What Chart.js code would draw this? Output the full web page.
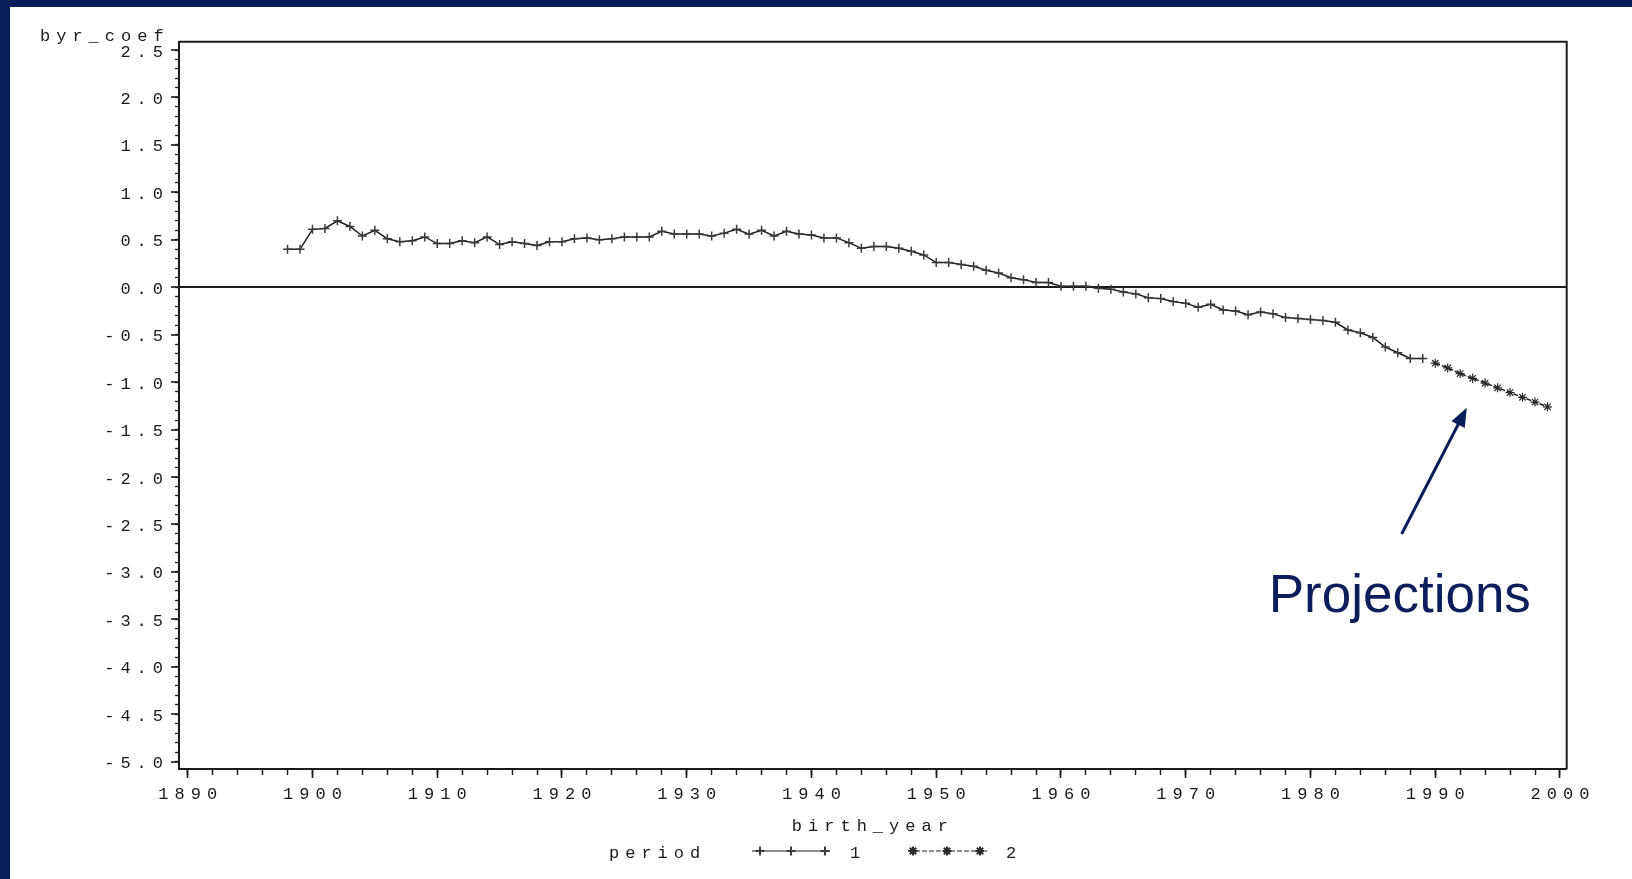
<!DOCTYPE html>
<html>
<head>
<meta charset="utf-8">
<script src="https://cdn.jsdelivr.net/npm/chart.js@4.4.1/dist/chart.umd.min.js"></script>
<style>
  html, body { margin: 0; padding: 0; width: 1632px; height: 879px; overflow: hidden; background: #0b1e5b; }
  #panel { position: absolute; left: 10px; top: 7px; right: 0; bottom: 0; background: #ffffff; }
  #c { position: absolute; left: 0; top: 0; }
</style>
</head>
<body>
<div id="panel"></div>
<canvas id="c" width="1632" height="879"></canvas>
<script>
// ---------------- data ----------------
const period1Years = [1898,1899,1900,1901,1902,1903,1904,1905,1906,1907,1908,1909,
  1910,1911,1912,1913,1914,1915,1916,1917,1918,1919,1920,1921,1922,1923,1924,1925,
  1926,1927,1928,1929,1930,1931,1932,1933,1934,1935,1936,1937,1938,1939,1940,1941,
  1942,1943,1944,1945,1946,1947,1948,1949,1950,1951,1952,1953,1954,1955,1956,1957,
  1958,1959,1960,1961,1962,1963,1964,1965,1966,1967,1968,1969,1970,1971,1972,1973,
  1974,1975,1976,1977,1978,1979,1980,1981,1982,1983,1984,1985,1986,1987,1988,1989];
const period1Coef = [0.40,0.40,0.61,0.62,0.70,0.64,0.54,0.60,0.51,0.48,0.49,0.53,
  0.46,0.46,0.49,0.47,0.53,0.45,0.48,0.46,0.44,0.48,0.48,0.51,0.52,0.50,0.51,0.53,
  0.53,0.53,0.59,0.56,0.56,0.56,0.54,0.57,0.61,0.56,0.60,0.54,0.59,0.56,0.55,0.52,
  0.52,0.47,0.41,0.43,0.43,0.41,0.38,0.34,0.26,0.26,0.24,0.22,0.18,0.15,0.10,0.08,
  0.05,0.05,0.01,0.01,0.01,-0.01,-0.02,-0.05,-0.07,-0.11,-0.12,-0.15,-0.17,-0.21,-0.18,-0.24,
  -0.25,-0.29,-0.26,-0.28,-0.32,-0.33,-0.34,-0.35,-0.37,-0.45,-0.48,-0.53,-0.63,-0.69,-0.75,-0.75];
const period2Years = [1990,1991,1992,1993,1994,1995,1996,1997,1998,1999];
const period2Coef = [-0.80,-0.85,-0.91,-0.96,-1.01,-1.06,-1.11,-1.16,-1.21,-1.26];

const xTickValues = [1890,1900,1910,1920,1930,1940,1950,1960,1970,1980,1990,2000];
const xTickLabels = ['1890','1900','1910','1920','1930','1940','1950','1960','1970','1980','1990','2000'];
const yTickValues = [-5.0,-4.5,-4.0,-3.5,-3.0,-2.5,-2.0,-1.5,-1.0,-0.5,0.0,0.5,1.0,1.5,2.0,2.5];
const yTickLabels = ['-5.0','-4.5','-4.0','-3.5','-3.0','-2.5','-2.0','-1.5','-1.0','-0.5','0.0','0.5','1.0','1.5','2.0','2.5'];
const seriesNames = ['1', '2'];
const legendTitle = 'period';
const xTitle = 'birth_year';
const yTitle = 'byr_coef';
const noteText = 'Projections';

// ---------------- styling ----------------
const X_MIN = 1889.30, X_MAX = 2000.54;
const Y_MIN = -5.077, Y_MAX = 2.5875;
const INK = '#1a1a1a';
const NAVY = '#0b1e5b';
const MONO = '"Liberation Mono", "Courier New", monospace';
const SPACING = '6px';

function zeroPad(s) { s.paddingLeft = 0; s.paddingRight = 0; s.paddingTop = 0; s.paddingBottom = 0; }

const minorX = [];
for (let v = 1890; v <= 2000; v += 2) minorX.push(v);
const minorY = [];
for (let k = -50; k <= 25; k++) minorY.push(k / 10);

const sasLetterSpacing = {
  id: 'sasLetterSpacing',
  beforeDraw(chart) { chart.ctx.letterSpacing = SPACING; }
};

const decorations = {
  id: 'decorations',
  afterDraw(chart) {
    const ctx = chart.ctx;
    const a = chart.chartArea;
    const xs = chart.scales.x, ys = chart.scales.y;
    ctx.save();
    // frame
    ctx.strokeStyle = INK;
    ctx.lineWidth = 2;
    ctx.beginPath();
    ctx.moveTo(a.left, a.top);
    ctx.lineTo(a.right, a.top);
    ctx.lineTo(a.right, a.bottom);
    ctx.stroke();

    // y title
    ctx.letterSpacing = SPACING;
    ctx.font = '17px ' + MONO;
    ctx.fillStyle = INK;
    ctx.textAlign = 'left';
    ctx.textBaseline = 'alphabetic';
    ctx.fillText(yTitle, 40, 41);

    // legend
    const ly = 851;
    ctx.fillText(legendTitle, 609, 857.5);
    const ds = chart.data.datasets;
    const items = [
      {x0: 752, x1: 830, marks: [760, 791, 825], lx: 850, d: ds[0]},
      {x0: 908, x1: 987, marks: [913, 947, 980], lx: 1006, d: ds[1]}
    ];
    items.forEach((it, i) => {
      ctx.save();
      ctx.strokeStyle = it.d.borderColor;
      ctx.lineWidth = 1.2;
      ctx.setLineDash(it.d.borderDash || []);
      ctx.beginPath();
      ctx.moveTo(it.x0, ly); ctx.lineTo(it.x1, ly); ctx.stroke();
      ctx.restore();
      ctx.strokeStyle = it.d.pointBorderColor;
      it.marks.forEach(mx => {
        Chart.helpers.drawPoint(ctx, {
          pointStyle: it.d.pointStyle, radius: it.d.pointRadius, borderWidth: 1.3, rotation: 0
        }, mx, ly);
      });
      ctx.fillStyle = INK;
      ctx.fillText(seriesNames[i], it.lx, 857.5);
    });

    // annotation arrow + text (anchored in data units)
    const tx = xs.getPixelForValue(1987.31), ty = ys.getPixelForValue(-2.60);
    const hx = xs.getPixelForValue(1992.53), hy = ys.getPixelForValue(-1.27);
    const ang = Math.atan2(hy - ty, hx - tx);
    const head = 19, half = 7.5;
    ctx.strokeStyle = NAVY;
    ctx.fillStyle = NAVY;
    ctx.lineWidth = 3;
    ctx.beginPath();
    ctx.moveTo(tx, ty);
    ctx.lineTo(hx - Math.cos(ang) * head * 0.8, hy - Math.sin(ang) * head * 0.8);
    ctx.stroke();
    ctx.beginPath();
    ctx.moveTo(hx, hy);
    ctx.lineTo(hx - Math.cos(ang) * head + Math.sin(ang) * half, hy - Math.sin(ang) * head - Math.cos(ang) * half);
    ctx.lineTo(hx - Math.cos(ang) * head - Math.sin(ang) * half, hy - Math.sin(ang) * head + Math.cos(ang) * half);
    ctx.closePath();
    ctx.fill();

    ctx.letterSpacing = '0px';
    ctx.font = '53px "Liberation Sans", Arial, sans-serif';
    ctx.textAlign = 'left';
    ctx.textBaseline = 'alphabetic';
    ctx.fillText(noteText, xs.getPixelForValue(1976.65), ys.getPixelForValue(-3.42));
    ctx.restore();
  }
};

const ctx = document.getElementById('c').getContext('2d');
new Chart(ctx, {
  type: 'line',
  data: {
    datasets: [
      {
        label: seriesNames[0],
        data: period1Years.map((yr, i) => ({x: yr, y: period1Coef[i]})),
        borderColor: '#1e1e1e',
        borderWidth: 1.5,
        pointStyle: 'cross',
        pointRadius: 4.5,
        pointBorderWidth: 1.5,
        pointBorderColor: '#3a3a3a',
        pointBackgroundColor: '#3a3a3a',
        tension: 0,
        fill: false
      },
      {
        label: seriesNames[1],
        data: period2Years.map((yr, i) => ({x: yr, y: period2Coef[i]})),
        borderColor: '#1e1e1e',
        borderWidth: 1.5,
        borderDash: [5, 2],
        pointStyle: 'star',
        pointRadius: 4.5,
        pointBorderWidth: 1.2,
        pointBorderColor: '#2a2a2a',
        pointBackgroundColor: '#2a2a2a',
        tension: 0,
        fill: false
      }
    ]
  },
  options: {
    responsive: false,
    animation: false,
    devicePixelRatio: 1,
    layout: { padding: { left: 0, top: 41.7, right: 65.3, bottom: 0 } },
    plugins: { legend: { display: false }, tooltip: { enabled: false } },
    scales: {
      x: {
        type: 'linear', position: 'bottom', weight: 1,
        min: X_MIN, max: X_MAX,
        afterBuildTicks: s => { s.ticks = xTickValues.map(v => ({value: v})); },
        afterFit: s => { s.height = 110; zeroPad(s); },
        ticks: {
          autoSkip: false, maxRotation: 0, padding: 6, labelOffset: 3,
          color: INK, font: { family: MONO, size: 17 },
          callback: v => xTickLabels[xTickValues.indexOf(v)]
        },
        grid: { drawOnChartArea: false, tickLength: 9, tickColor: INK, tickWidth: 1.6 },
        border: { display: true, color: INK, width: 2 },
        title: {
          display: true, text: xTitle, color: INK,
          font: { family: MONO, size: 17 }, padding: { top: 0, bottom: 42 }
        }
      },
      xMinor: {
        type: 'linear', position: 'bottom', weight: 0,
        min: X_MIN, max: X_MAX,
        afterBuildTicks: s => { s.ticks = minorX.map(v => ({value: v})); },
        afterFit: s => { s.height = 0; zeroPad(s); },
        ticks: { display: false, autoSkip: false },
        grid: { drawOnChartArea: false, tickLength: 6, tickColor: INK, tickWidth: 1.5 },
        border: { display: false }
      },
      y: {
        type: 'linear', position: 'left', weight: 1,
        min: Y_MIN, max: Y_MAX,
        afterBuildTicks: s => { s.ticks = yTickValues.map(v => ({value: v})); },
        afterFit: s => { s.width = 179; zeroPad(s); },
        ticks: {
          autoSkip: false, padding: 2, labelOffset: 2,
          color: INK, font: { family: MONO, size: 17 },
          callback: v => yTickLabels[yTickValues.indexOf(v)]
        },
        grid: {
          drawOnChartArea: true, tickLength: 8, tickColor: INK, tickWidth: 1.6,
          color: c => (c.tick && c.tick.value === 0) ? INK : 'rgba(0,0,0,0)',
          lineWidth: 2
        },
        border: { display: true, color: INK, width: 2 }
      },
      yMinor: {
        type: 'linear', position: 'left', weight: 0,
        min: Y_MIN, max: Y_MAX,
        afterBuildTicks: s => { s.ticks = minorY.map(v => ({value: v})); },
        afterFit: s => { s.width = 0; zeroPad(s); },
        ticks: { display: false, autoSkip: false },
        grid: { drawOnChartArea: false, tickLength: 4, tickColor: INK, tickWidth: 1.3 },
        border: { display: false }
      }
    }
  },
  plugins: [sasLetterSpacing, decorations]
});
</script>
</body>
</html>
